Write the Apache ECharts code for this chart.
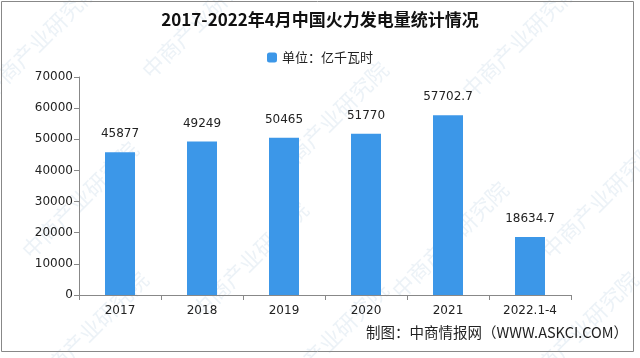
<!DOCTYPE html>
<html><head><meta charset="utf-8">
<script src="https://cdn.jsdelivr.net/npm/echarts@6/dist/echarts.min.js"></script>
<style>html,body{margin:0;padding:0;background:#fff}#c{width:640px;height:358px}</style>
</head><body><div id="c"></div>
<script>
const categories = ['2017', '2018', '2019', '2020', '2021', '2022.1-4'];
const values = [45877, 49249, 50465, 51770, 57702.7, 18634.7];
const yTicks = [0, 10000, 20000, 30000, 40000, 50000, 60000, 70000];
const seriesName = '单位：亿千瓦时';

const chart = echarts.init(document.getElementById('c'));
const wm = [];
const wmPos = [[40,40],[200,20],[330,120],[520,40],[80,200],[250,260],[450,240],[600,200],[90,330],[330,340],[580,330]];
wmPos.forEach(p => wm.push({
  type: 'text', x: p[0], y: p[1], rotation: Math.PI/4, z: -1,
  style: { text: '中商产业研究院', font: '22px "Noto Sans CJK SC"', fill: 'rgba(120,160,200,0.14)', align: 'center', verticalAlign: 'middle' }
}));
chart.setOption({
  animation: false,
  title: { text: '2017-2022年4月中国火力发电量统计情况', left: 'center', top: 6,
    textStyle: { fontSize: 17, fontWeight: 'bold', color: '#111', fontFamily: '"Noto Sans CJK SC"' } },
  legend: { top: 46, left: 'center', itemWidth: 10, itemHeight: 10, itemGap: 4,
    textStyle: { fontSize: 13, color: '#222', fontFamily: '"Noto Sans CJK SC"' }, data: [seriesName] },
  grid: { left: 79, right: 69, top: 77, bottom: 63 },
  xAxis: { type: 'category', data: categories,
    axisLine: { lineStyle: { color: '#888' } }, axisTick: { show: true, alignWithLabel: false, lineStyle: { color: '#888' } },
    axisLabel: { fontSize: 12, color: '#222', margin: 10, fontFamily: 'DejaVu Sans' } },
  yAxis: { type: 'value', min: 0, max: 70000, interval: 10000, splitLine: { show: false },
    axisLine: { show: true, lineStyle: { color: '#888' } }, axisTick: { show: true, lineStyle: { color: '#888' } },
    axisLabel: { fontSize: 12, color: '#222', margin: 6, fontFamily: 'DejaVu Sans',
      formatter: v => yTicks.includes(v) ? String(v) : '' } },
  series: [{ name: seriesName, type: 'bar', data: values, barWidth: 30,
    itemStyle: { color: '#3C97E8' },
    label: { show: true, position: 'top', distance: 12, fontSize: 12, color: '#222', fontFamily: 'DejaVu Sans' } }],
  graphic: wm.concat([
    { type: 'rect', shape: { x: 1.5, y: 1.5, width: 632, height: 350 }, style: { fill: 'none', stroke: '#888', lineWidth: 1 } },
    { type: 'text', right: 12, top: 325, style: { text: '制图：中商情报网（WWW.ASKCI.COM）', font: '14.5px "Noto Sans CJK SC"', fill: '#222' } }
  ])
});
</script></body></html>
